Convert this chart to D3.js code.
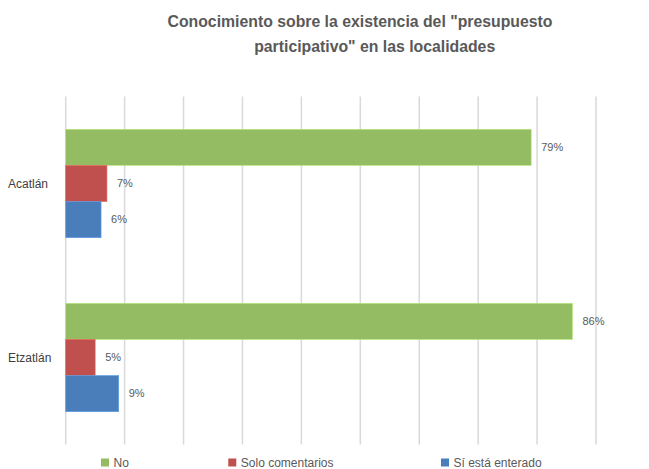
<!DOCTYPE html>
<html>
<head>
<meta charset="utf-8">
<script src="https://cdn.jsdelivr.net/npm/d3@7"></script>
<style>
  html, body { margin: 0; padding: 0; background: #fff; }
  svg { display: block; font-family: "Liberation Sans", Arial, Helvetica, sans-serif; }
</style>
</head>
<body>
<svg id="chart" width="649" height="469"></svg>
<script>
// Localities (top to bottom) and answer series
const localidades = ["Acatlán", "Etzatlán"];
const series = ["No", "Solo comentarios", "Sí está enterado"];
const colores = ["#94BC63", "#C0504D", "#4A7EBB"];
// Percentages per series, in the order of localidades
const valoresNo = [79, 86];
const valoresSolo = [7, 5];
const valoresSi = [6, 9];
const xTicks = [0, 10, 20, 30, 40, 50, 60, 70, 80, 90];
const tituloLineas = ["Conocimiento sobre la existencia del \"presupuesto", "participativo\" en las localidades"];

const valores = [valoresNo, valoresSolo, valoresSi];

const svg = d3.select("#chart");
const plot = { left: 65.7, right: 596, top: 96.5, bottom: 444.5 };

const x = d3.scaleLinear().domain([0, 90]).range([plot.left, plot.right]);
const y = d3.scaleBand().domain(localidades).range([plot.top, plot.bottom])
  .paddingInner(0.377).paddingOuter(0.1885);
const ySub = d3.scaleBand().domain(series).range([0, y.bandwidth()]);

// Title
svg.append("g").selectAll("text").data(tituloLineas).join("text")
  .attr("x", (d, i) => i === 0 ? 360 : 374.7)
  .attr("y", (d, i) => 27 + i * 24.5)
  .attr("text-anchor", "middle")
  .attr("font-size", 15.8)
  .attr("font-weight", "bold")
  .attr("fill", "#595959")
  .text(d => d);

// Vertical gridlines
svg.append("g").selectAll("line").data(xTicks).join("line")
  .attr("x1", d => x(d)).attr("x2", d => x(d))
  .attr("y1", plot.top).attr("y2", plot.bottom)
  .attr("stroke", "#d9d9d9").attr("stroke-width", 1.5);

// Bars
const grupos = svg.append("g").selectAll("g").data(localidades).join("g")
  .attr("transform", d => `translate(0,${y(d)})`);

grupos.each(function (loc, li) {
  const g = d3.select(this);
  const filas = series.map((s, si) => ({ s, si, v: valores[si][li] }));
  g.selectAll("rect").data(filas).join("rect")
    .attr("x", x(0))
    .attr("y", d => ySub(d.s))
    .attr("width", d => x(d.v) - x(0))
    .attr("height", ySub.bandwidth())
    .attr("fill", d => colores[d.si])
    .attr("stroke", d => d3.color(colores[d.si]).brighter(0.6))
    .attr("stroke-width", 0.6);
  g.selectAll("text").data(filas).join("text")
    .attr("x", d => x(d.v) + 10)
    .attr("y", d => ySub(d.s) + ySub.bandwidth() / 2)
    .attr("dy", "0.35em")
    .attr("font-size", 11)
    .attr("fill", "#595959")
    .text(d => d.v + "%");
});

// Category labels
svg.append("g").selectAll("text").data(localidades).join("text")
  .attr("x", 8)
  .attr("y", d => y(d) + y.bandwidth() / 2)
  .attr("dy", "0.35em")
  .attr("font-size", 12)
  .attr("fill", "#404040")
  .text(d => d);

// Legend
const legendX = [101, 228.3, 441];
const legend = svg.append("g").selectAll("g").data(series).join("g")
  .attr("transform", (d, i) => `translate(${legendX[i]},462.5)`);
legend.append("rect")
  .attr("x", 0).attr("y", -4).attr("width", 8).attr("height", 8)
  .attr("fill", (d, i) => colores[i]);
legend.append("text")
  .attr("x", 12.5).attr("dy", "0.35em")
  .attr("font-size", 12)
  .attr("fill", "#595959")
  .text(d => d);
</script>
</body>
</html>
